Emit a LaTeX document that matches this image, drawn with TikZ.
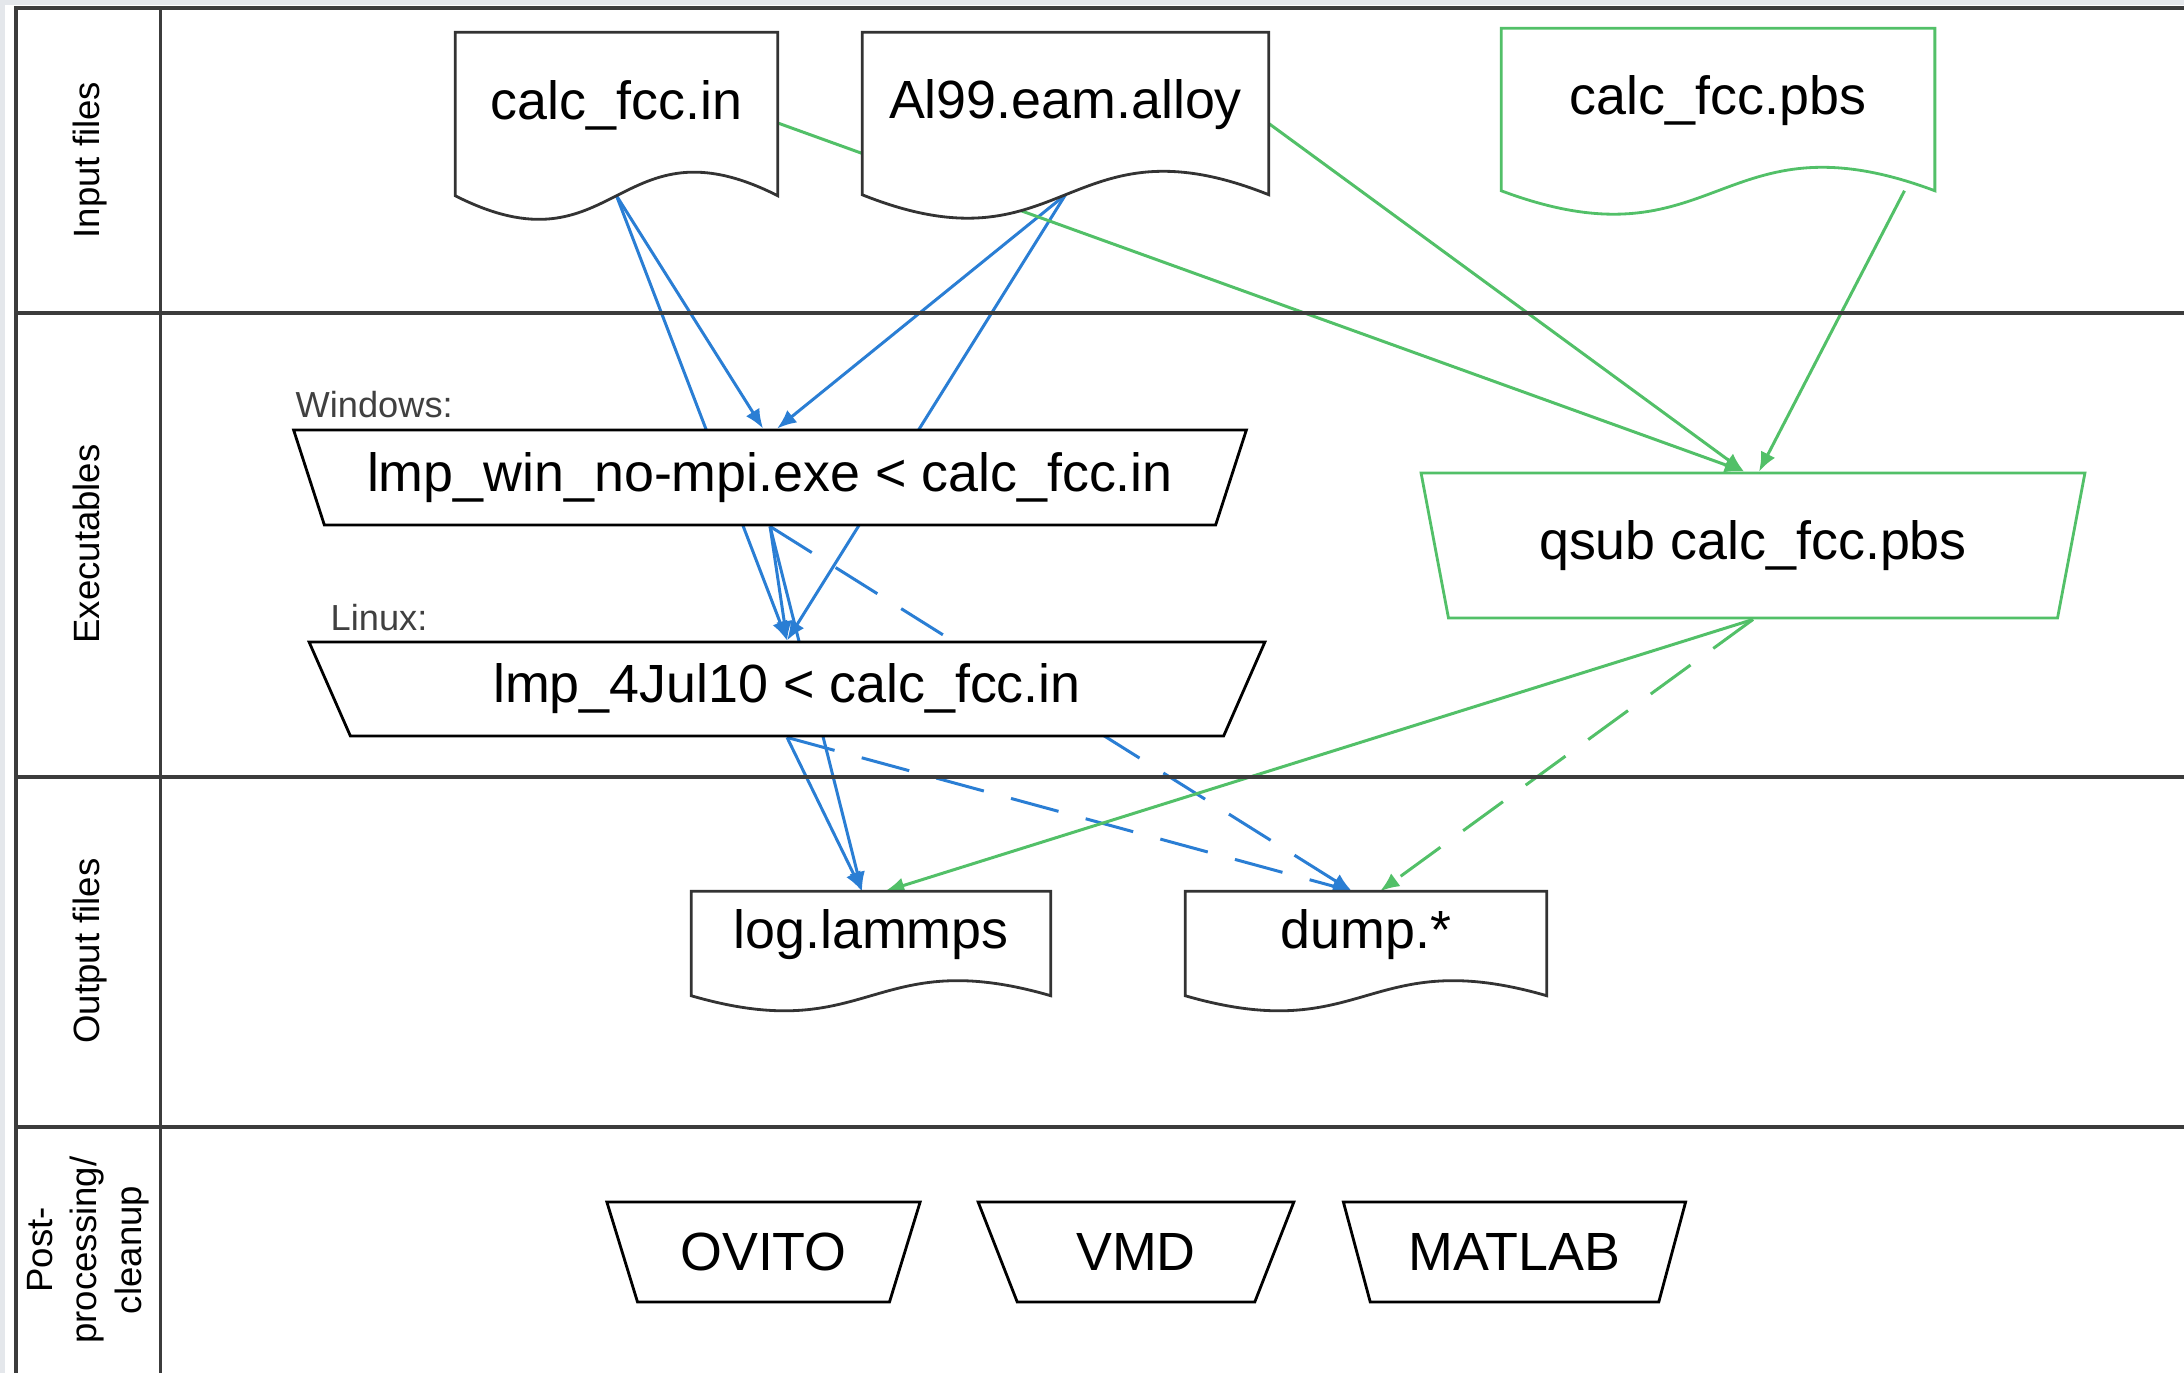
\documentclass[tikz,border=0pt]{standalone}
\usepackage{fontspec}
\setmainfont{Liberation Sans}
\usepackage{tikz}
\usetikzlibrary{calc,shapes.geometric,arrows.meta}

\definecolor{linkblue}{RGB}{42,126,212}
\definecolor{linkgreen}{RGB}{82,192,104}
\definecolor{lanegray}{RGB}{60,60,60}
\definecolor{edgegray}{RGB}{228,231,235}

\newcommand{\boxfont}{\fontsize{15.3}{18}\selectfont}
\newcommand{\lanefont}{\fontsize{10.4}{12.6}\selectfont}
\newcommand{\osfont}{\fontsize{10.3}{12}\selectfont}

\pgfdeclarelayer{links}
\pgfdeclarelayer{docs}
\pgfsetlayers{links,docs,main}

% wavy document outline round a named node
\newcommand{\docoutline}[2]{%
  \begin{pgfonlayer}{docs}
  \filldraw[draw=#2, fill=white, line width=0.8pt] (#1.north west) -- (#1.north east) -- (#1.south east)
    .. controls (#1.center) and ($(#1.south)!-1!(#1.center)$) .. (#1.south west) -- cycle;
  \end{pgfonlayer}}

\tikzset{
  lane/.style={draw=lanegray, line width=1pt},
  lanename/.style={rotate=90, anchor=base, font=\lanefont},
  docfile/.style={inner sep=0pt, font=\boxfont, text height=3.5mm, text depth=2.5mm},
  execbox/.style={trapezium, shape border rotate=180, trapezium stretches=true, draw, fill=white,
    line width=0.8pt, font=\boxfont, inner sep=0pt},
  oslabel/.style={anchor=base west, inner sep=0pt, font=\osfont, text=black!75},
  bluelink/.style={draw=linkblue, line width=0.85pt},
  greenlink/.style={draw=linkgreen, line width=0.85pt},
  dashlink/.style={dash pattern=on 14pt off 8pt},
}

\begin{document}
\begin{tikzpicture}[x=0.01cm, y=-0.01cm, >={Latex[length=5.5pt,width=4.5pt]}]
\useasboundingbox (0,0) rectangle (2184,1373);

% lanes
\fill[edgegray] (0,0) rectangle (2184,5);
\fill[edgegray] (0,0) rectangle (5,1373);
\draw[lane] (16,1373) -- (16,8) -- (2184,8);
\draw[lane, line width=0.8pt] (160.7,8) -- (160.7,1373);
\foreach \y in {313,777,1127}
  \draw[lane] (16,\y) -- (2184,\y);

\node[lanename] (lanein) at (100,160) {Input files};
\node[lanename] (laneexe) at (100,544) {Executables};
\node[lanename] (laneout) at (100,951) {Output files};
\node[rotate=90, font=\lanefont, align=center] (lanepost) at (88,1250) {Post-\\processing/\\cleanup};

% input files
\node[docfile, minimum width=3.21cm, minimum height=1.62cm] (infile) at (616.5,114) {calc\_fcc.in};
\docoutline{infile}{black!80}
\node[docfile, minimum width=4.05cm, minimum height=1.61cm] (potfile) at (1065.5,113.5) {Al99.eam.alloy};
\docoutline{potfile}{black!80}
\node[docfile, minimum width=4.32cm, minimum height=1.61cm] (pbsfile) at (1718,109.5) {calc\_fcc.pbs};
\docoutline{pbsfile}{linkgreen}

% executables
\node[oslabel] (winlabel) at (295,417) {Windows:};
\node[execbox, trapezium left angle=61, trapezium right angle=61,
  minimum width=9.54cm, minimum height=0.95cm] (win) at (770,477.5) {lmp\_win\_no-mpi.exe < calc\_fcc.in};
\node[oslabel] (linuxlabel) at (330,630) {Linux:};
\node[execbox, trapezium left angle=61, trapezium right angle=61,
  minimum width=9.56cm, minimum height=0.94cm] (linux) at (787,689) {lmp\_4Jul10 < calc\_fcc.in};
\node[execbox, draw=linkgreen, trapezium left angle=69, trapezium right angle=69,
  minimum width=6.64cm, minimum height=1.45cm] (qsub) at (1753,545.5) {qsub calc\_fcc.pbs};

% output files
\node[docfile, minimum width=3.58cm, minimum height=1.03cm] (logfile) at (871,943.5) {log.lammps};
\docoutline{logfile}{black!80}
\node[docfile, minimum width=3.60cm, minimum height=1.03cm] (dumpfile) at (1366,943.5) {dump.*};
\docoutline{dumpfile}{black!80}

% post-processing
\node[execbox, trapezium left angle=62, trapezium right angle=62,
  minimum width=3.15cm, minimum height=1.0cm] (ovito) at (763.5,1252) {OVITO};
\node[execbox, trapezium left angle=62, trapezium right angle=62,
  minimum width=3.16cm, minimum height=1.0cm] (vmd) at (1136,1252) {VMD};
\node[execbox, trapezium left angle=62, trapezium right angle=62,
  minimum width=3.43cm, minimum height=1.0cm] (matlab) at (1514.5,1252) {MATLAB};

% connectors
\begin{pgfonlayer}{links}
\draw[bluelink,->] (infile.south) -- ([xshift=-0.7mm]win.north);
\draw[bluelink,->] (infile.south) -- (linux.north);
\draw[bluelink,->] (potfile.south) -- ([xshift=0.7mm]win.north);
\draw[bluelink,->] (potfile.south) -- (linux.north);
\draw[bluelink,->] (win.south) -- (linux.north);
\draw[bluelink,->] (win.south) -- ([xshift=-0.9mm]logfile.north);
\draw[bluelink,->] (linux.south) -- ([xshift=-0.9mm]logfile.north);
\draw[bluelink,dashlink,->] (win.south) -- ([xshift=-1.4mm]dumpfile.north);
\draw[bluelink,dashlink,->] (linux.south) -- ([xshift=-1.4mm]dumpfile.north);

\draw[greenlink,->] ([yshift=-0.9mm]infile.east) -- ([xshift=-0.9mm]qsub.north);
\draw[greenlink,->] ([yshift=-1mm]potfile.east) -- ([xshift=-0.9mm]qsub.north);
\draw[greenlink,->] ($(pbsfile.south)!0.86!(pbsfile.south east)$) -- ([xshift=0.6mm]qsub.north);
\draw[greenlink,->] (qsub.south) -- ([xshift=1.4mm]logfile.north);
\draw[greenlink,dashlink,->] (qsub.south) -- ([xshift=1.4mm]dumpfile.north);
\end{pgfonlayer}
\end{tikzpicture}
\end{document}
